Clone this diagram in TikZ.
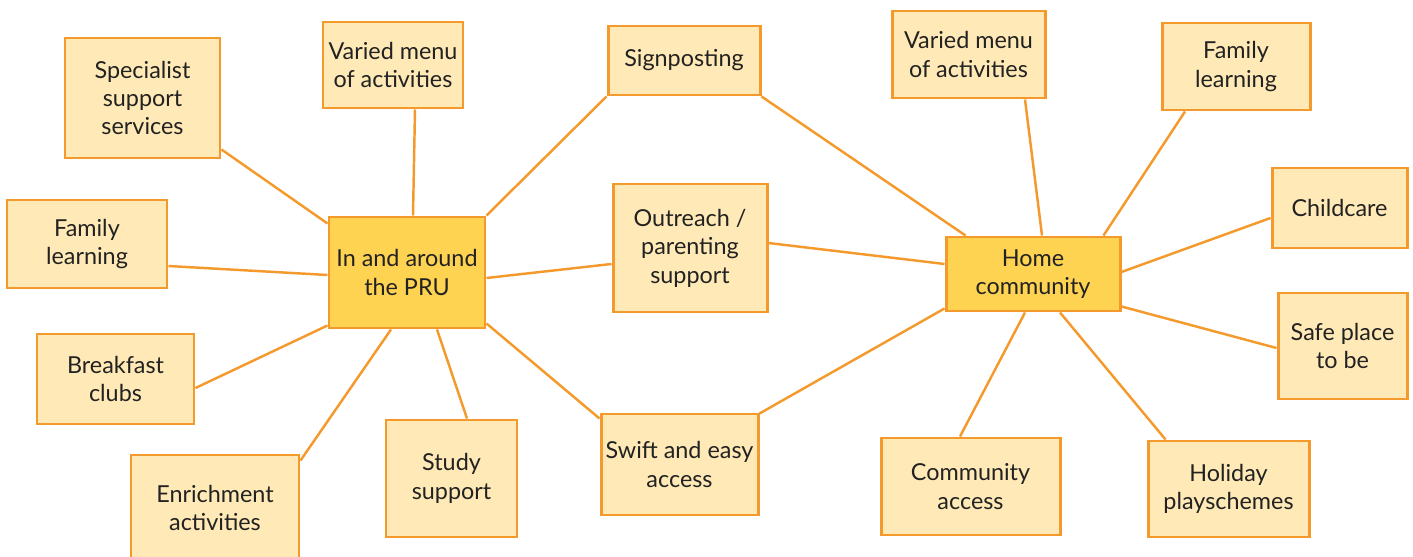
\documentclass[tikz,border=0pt]{standalone}
\usepackage{fontspec}
\setmainfont{Lato}
\pgfdeclarelayer{background}
\pgfsetlayers{background,main}
\definecolor{boxfill}{HTML}{FFE9B6}
\definecolor{hubfill}{HTML}{FFD352}
\definecolor{edge}{HTML}{F49A2C}
\definecolor{ink}{HTML}{222222}
\tikzset{
  item/.style={draw=edge, fill=boxfill, line width=1.7pt, align=center,
    text=ink, font=\fontsize{13.3}{16.2}\selectfont, inner sep=0pt},
  hub/.style={item, fill=hubfill},
  link/.style={draw=edge, line width=1.4pt},
}
\begin{document}
\begin{tikzpicture}[x=0.02cm, y=-0.02cm]
\useasboundingbox (0,0) rectangle (1413,557);
% left cluster
\node[hub, minimum width=156*0.02cm, minimum height=111*0.02cm] (pru) at (407,272.5) {In and around\\the PRU};
\node[item, minimum width=155*0.02cm, minimum height=120*0.02cm] (spec) at (142.5,98) {Specialist\\support\\services};
\node[item, minimum width=140*0.02cm, minimum height=86*0.02cm] (varL) at (393,65) {Varied menu\\of activities};
\node[item, minimum width=160*0.02cm, minimum height=88*0.02cm] (famL) at (87,244) {Family\\learning};
\node[item, minimum width=157*0.02cm, minimum height=90*0.02cm] (brk) at (115.5,379) {Breakfast\\clubs};
\node[item, minimum width=168*0.02cm, minimum height=106*0.02cm] (enr) at (215,508) {Enrichment\\activities};
\node[item, minimum width=131*0.02cm, minimum height=117*0.02cm] (study) at (451.5,478.5) {Study\\support};
% middle column
\node[item, minimum width=152*0.02cm, minimum height=69*0.02cm] (sign) at (684,60.5) {Signposting};
\node[item, minimum width=154*0.02cm, minimum height=128*0.02cm] (out) at (690,248) {Outreach /\\parenting\\support};
\node[item, minimum width=157*0.02cm, minimum height=101*0.02cm] (swift) at (679.5,464.5) {Swift and easy\\access};
% right cluster
\node[hub, minimum width=174*0.02cm, minimum height=74*0.02cm] (home) at (1033,274) {Home\\community};
\node[item, minimum width=153*0.02cm, minimum height=87*0.02cm] (varR) at (968.5,54.5) {Varied menu\\of activities};
\node[item, minimum width=148*0.02cm, minimum height=87*0.02cm] (famR) at (1236,66.5) {Family\\learning};
\node[item, minimum width=135*0.02cm, minimum height=80*0.02cm] (child) at (1339.5,208) {Childcare};
\node[item, minimum width=129*0.02cm, minimum height=106*0.02cm] (safe) at (1342.5,346) {Safe place\\to be};
\node[item, minimum width=179*0.02cm, minimum height=97*0.02cm] (comm) at (970.5,486.5) {Community\\access};
\node[item, minimum width=161*0.02cm, minimum height=96*0.02cm] (hol) at (1228.5,489) {Holiday\\playschemes};
\begin{pgfonlayer}{background}
% spokes of the left hub
\draw[link] ([shift={(0,-10)}]spec.south east) -- ([shift={(0,8)}]pru.north west);
\draw[link] ([shift={(22,0)}]varL.south) -- ([shift={(6,0)}]pru.north);
\draw[link] (sign.south west) -- (pru.north east);
\draw[link] ([shift={(0,22)}]famL.east) -- ([shift={(0,2.5)}]pru.west);
\draw[link] ([shift={(0,9)}]brk.east) -- ([shift={(0,-4)}]pru.south west);
\draw[link] ([shift={(0,7)}]enr.north east) -- ([shift={(-16,0)}]pru.south);
\draw[link] ([shift={(15.5,0)}]study.north) -- ([shift={(30,0)}]pru.south);
\draw[link] ([shift={(0,6)}]swift.north west) -- ([shift={(0,-6)}]pru.south east);
\draw[link] ([shift={(0,16)}]out.west) -- ([shift={(0,5.5)}]pru.east);
% spokes of the right hub
\draw[link] (sign.south east) -- ([shift={(21,0)}]home.north west);
\draw[link] ([shift={(0,-5)}]out.east) -- ([shift={(0,-10)}]home.west);
\draw[link] ([shift={(0,1)}]swift.north east) -- ([shift={(0,-4)}]home.south west);
\draw[link] ([shift={(56.5,0)}]varR.south) -- ([shift={(9,0)}]home.north);
\draw[link] ([shift={(-51,0)}]famR.south) -- ([shift={(-18,0)}]home.north east);
\draw[link] ([shift={(0,10)}]child.west) -- ([shift={(0,-2)}]home.east);
\draw[link] ([shift={(0,2)}]safe.west) -- ([shift={(0,-6)}]home.south east);
\draw[link] ([shift={(19,0)}]hol.north west) -- ([shift={(27,0)}]home.south);
\draw[link] ([shift={(-10.5,0)}]comm.north) -- ([shift={(-8,0)}]home.south);
\end{pgfonlayer}
\end{tikzpicture}
\end{document}
